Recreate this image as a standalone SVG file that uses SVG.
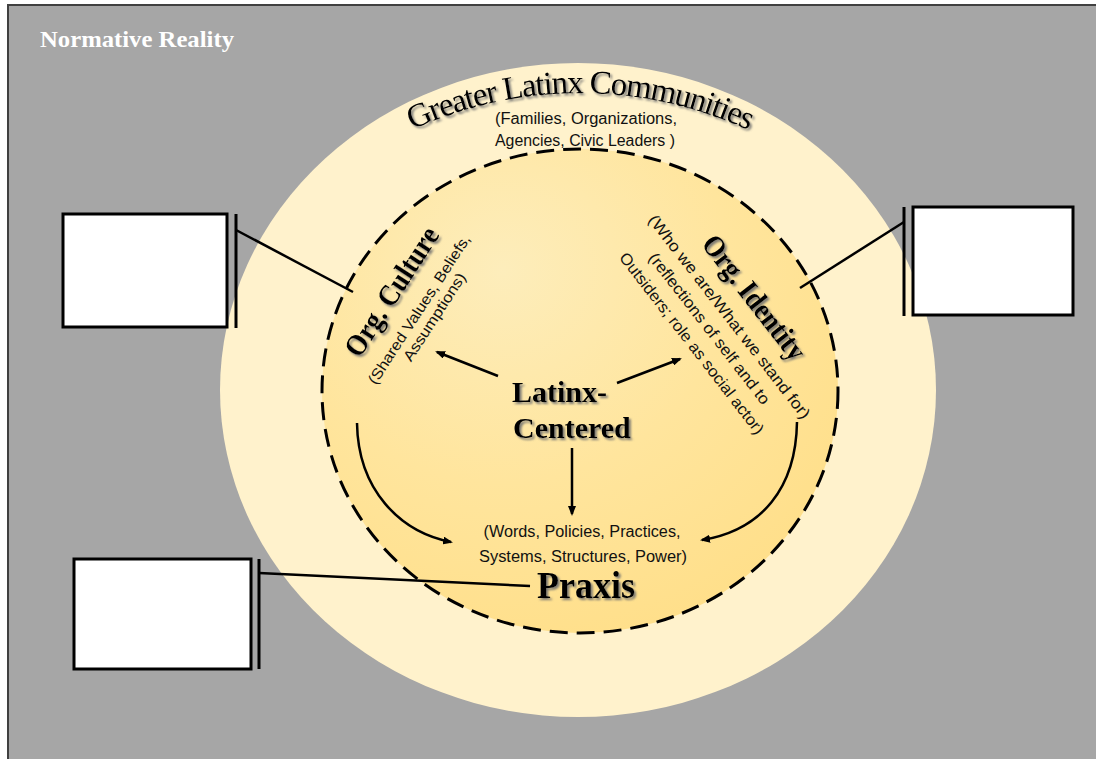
<svg xmlns="http://www.w3.org/2000/svg" width="1096" height="759" viewBox="0 0 1096 759">
  <defs>
    <radialGradient id="innerFill" cx="35%" cy="25%" r="80%">
      <stop offset="0" stop-color="#fdedbb"/>
      <stop offset="0.55" stop-color="#ffe59d"/>
      <stop offset="1" stop-color="#ffdf8a"/>
    </radialGradient>
    <filter id="shadow" x="-20%" y="-20%" width="140%" height="140%">
      <feDropShadow dx="2" dy="2" stdDeviation="0.8" flood-color="#6e6e6e" flood-opacity="0.9"/>
    </filter>
    <marker id="arrow" viewBox="0 0 10 8" refX="8" refY="4" markerWidth="10" markerHeight="8" markerUnits="userSpaceOnUse" orient="auto">
      <path d="M0,0 L10,4 L0,8 z" fill="#000"/>
    </marker>
    <path id="outerArc" d="M 178,495 A 402,402 0 0 1 982,495"/>
  </defs>
  <style>
    .serifB { font-family: "Liberation Serif", "Times New Roman", serif; font-weight: bold; fill: #000; }
    .serif { font-family: "Liberation Serif", "Times New Roman", serif; fill: #000; }
    .sans { font-family: "Liberation Sans", Arial, sans-serif; font-size: 16px; fill: #111; }
    .box { fill: #fff; stroke: #000; stroke-width: 3; }
    .bar { stroke: #000; stroke-width: 3; }
    .lead { stroke: #000; stroke-width: 2.5; fill: none; }
    .flow { stroke: #000; stroke-width: 2.5; fill: none; marker-end: url(#arrow); }
  </style>

  <!-- background field -->
  <rect x="0" y="0" width="1096" height="759" fill="#ffffff"/>
  <rect id="field" x="8" y="5" width="1092" height="760" fill="#a6a6a6" stroke="#404040" stroke-width="2"/>
  <text x="40" y="47" class="serifB" font-size="23" style="fill:#fff" textLength="194" lengthAdjust="spacingAndGlyphs">Normative Reality</text>

  <!-- outer community ring -->
  <g id="communities">
    <ellipse cx="578" cy="390" rx="358" ry="327" fill="#fff2cc"/>
    <text class="serif" font-size="33" letter-spacing="-1.3" filter="url(#shadow)"><textPath href="#outerArc" startOffset="50%" text-anchor="middle">Greater Latinx Communities</textPath></text>
    <text x="586" y="124" class="sans" text-anchor="middle" textLength="182" lengthAdjust="spacingAndGlyphs">(Families, Organizations,</text>
    <text x="585" y="146" class="sans" text-anchor="middle" textLength="180" lengthAdjust="spacingAndGlyphs">Agencies, Civic Leaders )</text>
  </g>

  <!-- inner organisation circle -->
  <g id="organization">
    <ellipse cx="580" cy="391" rx="258" ry="242" fill="url(#innerFill)" stroke="#000" stroke-width="3" stroke-dasharray="18 9"/>
  </g>

  <!-- centre -->
  <g id="center" filter="url(#shadow)">
    <text x="512" y="402" class="serifB" font-size="30">Latinx-</text>
    <text x="513" y="438" class="serifB" font-size="30">Centered</text>
  </g>

  <!-- organisational culture -->
  <g id="culture">
    <g filter="url(#shadow)">
      <text transform="translate(420,310) rotate(-57)" x="0" y="-24" class="serifB" font-size="30" text-anchor="middle" textLength="148" lengthAdjust="spacingAndGlyphs">Org. Culture</text>
    </g>
    <g transform="translate(420,310) rotate(-57)">
      <text x="0" y="4" class="sans" style="font-size:15px" text-anchor="middle" textLength="175" lengthAdjust="spacingAndGlyphs">(Shared Values, Beliefs,</text>
      <text x="2" y="21" class="sans" style="font-size:15px" text-anchor="middle" textLength="102" lengthAdjust="spacingAndGlyphs">Assumptions)</text>
    </g>
  </g>

  <!-- organisational identity -->
  <g id="identity">
    <g filter="url(#shadow)">
      <text transform="translate(729,317) rotate(52.2)" x="0" y="-22" class="serifB" font-size="30" text-anchor="middle" textLength="150" lengthAdjust="spacingAndGlyphs">Org. Identity</text>
    </g>
    <g transform="translate(729,317) rotate(52.2)">
      <text x="0" y="5" class="sans" text-anchor="middle" textLength="253" lengthAdjust="spacingAndGlyphs">(Who we are/What we stand for)</text>
      <text x="-3" y="28" class="sans" text-anchor="middle" textLength="187" lengthAdjust="spacingAndGlyphs">(reflections of self and to</text>
      <text x="-2" y="51" class="sans" text-anchor="middle" textLength="225" lengthAdjust="spacingAndGlyphs">Outsiders; role as social actor)</text>
    </g>
  </g>

  <!-- praxis -->
  <g id="praxis">
    <text x="582" y="537" class="sans" text-anchor="middle" textLength="197" lengthAdjust="spacingAndGlyphs">(Words, Policies, Practices,</text>
    <text x="583" y="562" class="sans" text-anchor="middle" textLength="208" lengthAdjust="spacingAndGlyphs">Systems, Structures, Power)</text>
    <g filter="url(#shadow)">
      <text x="586" y="598" class="serifB" font-size="37" text-anchor="middle" textLength="98" lengthAdjust="spacingAndGlyphs">Praxis</text>
    </g>
  </g>

  <!-- empty callout boxes -->
  <g id="box-culture">
    <rect class="box" x="63" y="214" width="164" height="113"/>
    <line class="bar" x1="236" y1="214" x2="236" y2="328"/>
  </g>
  <g id="box-identity">
    <rect class="box" x="913" y="207" width="160" height="108"/>
    <line class="bar" x1="904" y1="207" x2="904" y2="316"/>
  </g>
  <g id="box-praxis">
    <rect class="box" x="74" y="559" width="177" height="110"/>
    <line class="bar" x1="259" y1="559" x2="259" y2="669"/>
  </g>

  <!-- connectors -->
  <g id="connectors">
    <line class="lead" x1="236" y1="230" x2="353" y2="292"/>
    <line class="lead" x1="904" y1="222" x2="800" y2="288"/>
    <line class="lead" x1="259" y1="573" x2="530" y2="586"/>
    <line class="flow" x1="572" y1="448" x2="572" y2="514"/>
    <line class="flow" x1="498" y1="376" x2="437" y2="352"/>
    <line class="flow" x1="617" y1="383" x2="680" y2="359"/>
    <path class="flow" d="M357,423 C358,490 400,532 451,542"/>
    <path class="flow" d="M797,422 C796,488 762,530 702,540"/>
  </g>
</svg>
